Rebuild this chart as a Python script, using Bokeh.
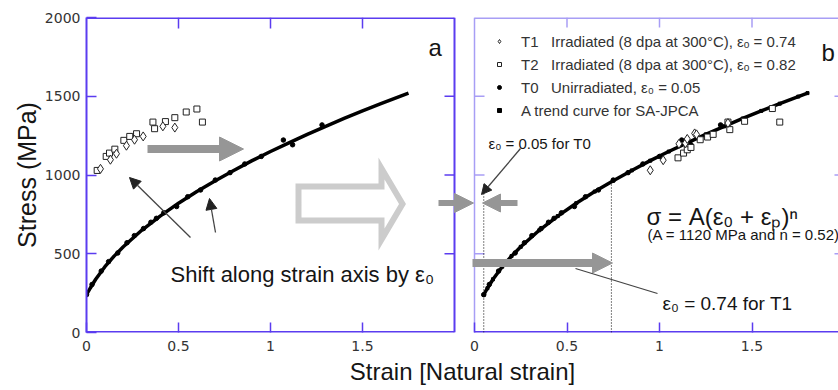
import math
from bokeh.plotting import figure
from bokeh.models import (Range1d, FixedTicker, CustomJSTickFormatter, Label, Arrow,
                          NormalHead, PolyAnnotation, Legend, LegendItem)
from bokeh.embed import file_html
from bokeh.resources import INLINE

# ---------------- data ----------------
# Trend curve for SA-JPCA (panel a: plastic strain)
strain_trend = [0.0, 0.02, 0.05, 0.10, 0.15, 0.20, 0.30, 0.40, 0.50, 0.60, 0.70,
                0.80, 0.90, 1.00, 1.10, 1.20, 1.30, 1.40, 1.50, 1.60, 1.70, 1.75]
stress_trend = [240, 281, 338, 418, 485, 544, 649, 739, 821, 895, 964,
                1029, 1091, 1149, 1204, 1258, 1309, 1359, 1407, 1453, 1498, 1520]

# T0 unirradiated (panel a)
strain_t0 = [0.0, 0.03, 0.08, 0.12, 0.17, 0.22, 0.26, 0.31, 0.35, 0.38, 0.42,
             0.49, 0.55, 0.62, 0.70, 0.78, 0.86, 0.95, 1.07, 1.12, 1.28]
stress_t0 = [240, 305, 390, 450, 505, 570, 615, 660, 700, 725, 760,
             800, 862, 905, 968, 1015, 1070, 1118, 1222, 1192, 1318]

# T1 irradiated (panel a)
strain_t1_a = [0.076, 0.130, 0.163, 0.217, 0.261, 0.308, 0.415, 0.480]
stress_t1_a = [1039, 1097, 1135, 1186, 1224, 1245, 1309, 1301]
# T2 irradiated (panel a)
strain_t2_a = [0.058, 0.107, 0.125, 0.154, 0.203, 0.235, 0.272, 0.361, 0.370,
               0.429, 0.480, 0.542, 0.600, 0.630]
stress_t2_a = [1029, 1118, 1139, 1164, 1220, 1245, 1262, 1336, 1294,
               1339, 1364, 1400, 1419, 1336]

# T1 / T2 shifted (panel b: total strain)
strain_t1_b = [0.95, 1.02, 1.105, 1.14, 1.15, 1.19, 1.20, 1.37]
stress_t1_b = [1030, 1094, 1198, 1202, 1229, 1264, 1258, 1330]
strain_t2_b = [1.10, 1.13, 1.15, 1.17, 1.22, 1.26, 1.29, 1.37, 1.38, 1.46, 1.61, 1.65]
stress_t2_b = [1109, 1139, 1160, 1175, 1224, 1241, 1258, 1336, 1288, 1341, 1422, 1336]

eps0_t0 = 0.05                 # shift of T0 / trend curve
eps0_marks = [0.05, 0.74]      # dotted markers in panel b
eps0_mark_tops = [948, 955]

x_ticks = [0, 0.5, 1, 1.5]
y_ticks = [0, 500, 1000, 1500, 2000]
inner_y_ticks = [500, 1000, 1500]
inner_x_ticks = [0.5, 1, 1.5]

legend_labels = ["T1   Irradiated (8 dpa at 300°C), εₒ = 0.74",
                 "T2   Irradiated (8 dpa at 300°C), εₒ = 0.82",
                 "T0   Unirradiated, ε₀ = 0.05",
                 "A trend curve for SA-JPCA"]

# ---------------- layout ----------------
W, H = 838, 390
ML, MT, MB = 86, 17, 58
FW = W - ML
FH = H - MT - MB
PX_L = 184.0    # px per strain unit, panel a
PX_R = 185.0    # px per strain unit, panel b
R_OFF = 388.0   # px from frame left to panel b zero
PANEL_END = 2.0

BLUE = "#5b3cf0"
LBLUE = "#a89ef5"
GRAY = "#969696"
LGRAY = "#cccccc"
TXT = "#151515"


def lx(px):   # page x -> panel a strain
    return (px - ML) / PX_L


def rx(px):   # page x -> panel b strain
    return (px - ML - R_OFF) / PX_R


def sy(py):   # page y -> stress
    return (MT + FH - py) * 2000.0 / FH


p = figure(width=W, height=H, output_backend="svg", toolbar_location=None,
           x_range=Range1d(0, FW / PX_L), y_range=Range1d(0, 2000),
           min_border_left=ML, min_border_top=MT, min_border_bottom=MB,
           min_border_right=0)
p.extra_x_ranges = {"r": Range1d(-R_OFF / PX_R, (FW - R_OFF) / PX_R)}
p.outline_line_color = None
p.xgrid.visible = False
p.ygrid.visible = False
p.background_fill_color = "white"
p.border_fill_color = "white"

# y axis (panel a)
ya = p.yaxis[0]
ya.ticker = FixedTicker(ticks=y_ticks)
ya.major_tick_in = 10
ya.major_tick_out = 0
ya.minor_tick_line_color = None
ya.axis_line_color = BLUE
ya.axis_line_width = 2
ya.major_tick_line_color = BLUE
ya.major_tick_line_width = 1.5
ya.major_label_text_font = "DejaVu Sans"
ya.major_label_text_font_size = "14px"
ya.major_label_text_color = "#333333"
ya.major_label_standoff = 6
ya.axis_label = "Stress (MPa)"
ya.axis_label_text_font = "Liberation Sans"
ya.axis_label_text_font_size = "25px"
ya.axis_label_text_font_style = "normal"
ya.axis_label_text_color = TXT
ya.axis_label_standoff = 1

# x axis shared by both panels
right_tick_pos = [(R_OFF + PX_R * t) / PX_L for t in x_ticks]
xa = p.xaxis[0]
xa.ticker = FixedTicker(ticks=x_ticks + right_tick_pos)
xa.formatter = CustomJSTickFormatter(args=dict(off=R_OFF / PX_L, k=PX_L / PX_R), code="""
let v = tick;
if (tick > off - 1e-6) { v = (tick - off) * k; }
v = Math.round(v * 100) / 100;
return v.toString();
""")
xa.axis_line_color = None
xa.major_tick_in = 10
xa.major_tick_out = 0
xa.minor_tick_line_color = None
xa.major_tick_line_color = BLUE
xa.major_tick_line_width = 1.5
xa.major_label_text_font = "DejaVu Sans"
xa.major_label_text_font_size = "14px"
xa.major_label_text_color = "#333333"
xa.major_label_standoff = 8
xa.axis_label = "Strain [Natural strain]"
xa.axis_label_text_font = "Liberation Sans"
xa.axis_label_text_font_size = "24px"
xa.axis_label_text_font_style = "normal"
xa.axis_label_text_color = TXT
xa.axis_label_standoff = 4

# panel frames
p.segment(x0=[0, 0, PANEL_END], y0=[0, 2000, 0], x1=[PANEL_END, PANEL_END, PANEL_END],
          y1=[0, 2000, 2000], line_color=BLUE, line_width=[3, 3, 2])
p.segment(x0=[0, 0], y0=[0, 2000], x1=[0, PANEL_END], y1=[2000, 2000],
          line_color=LBLUE, line_width=[1.5, 3], x_range_name="r")
p.segment(x0=[0], y0=[0], x1=[PANEL_END], y1=[0], line_color=BLUE, line_width=3,
          x_range_name="r")

# mirror ticks
p.ray(x=inner_x_ticks, y=[2000] * 3, length=11, angle=-math.pi / 2,
      length_units="screen", line_color=BLUE, line_width=1.5)
p.ray(x=[PANEL_END] * 3, y=inner_y_ticks, length=10, angle=math.pi,
      length_units="screen", line_color=BLUE, line_width=1.5)
p.ray(x=inner_x_ticks, y=[2000] * 3, length=10, angle=-math.pi / 2,
      length_units="screen", line_color=LBLUE, line_width=1.5, x_range_name="r")
p.ray(x=[0] * 3, y=inner_y_ticks, length=10, angle=0,
      length_units="screen", line_color=LBLUE, line_width=1.5, x_range_name="r")
p.ray(x=[PANEL_END] * 3, y=inner_y_ticks, length=10, angle=math.pi,
      length_units="screen", line_color=LBLUE, line_width=1.5, x_range_name="r")

# ---------------- panel a data ----------------
p.line(strain_trend, stress_trend, line_color="black", line_width=3.5)
p.scatter(strain_t0, stress_t0, marker="circle", size=4.5, color="black")
p.scatter(strain_t2_a, stress_t2_a, marker="square", size=6, fill_color="white",
          line_color="#222222", line_width=1)
p.scatter(strain_t1_a, stress_t1_a, marker="diamond", size=9,
          fill_color="white", line_color="#222222", line_width=1)

# ---------------- panel b data ----------------
strain_trend_b = [s + eps0_t0 for s in strain_trend]
strain_t0_b = [s + eps0_t0 for s in strain_t0]
p.segment(x0=eps0_marks, y0=[0, 0], x1=eps0_marks, y1=eps0_mark_tops,
          line_color="black", line_width=1, line_dash="1 2", x_range_name="r")
r_trend = p.line(strain_trend_b, stress_trend, line_color="black", line_width=3.5,
                 x_range_name="r")
r_trend_pts = p.scatter(strain_trend_b, stress_trend, marker="square", size=3,
                        color="black", x_range_name="r")
r_t0 = p.scatter(strain_t0_b, stress_t0, marker="circle", size=4.5, color="black",
                 x_range_name="r")
r_t2 = p.scatter(strain_t2_b, stress_t2_b, marker="square", size=6, fill_color="white",
                 line_color="#222222", line_width=1, x_range_name="r")
r_t1 = p.scatter(strain_t1_b, stress_t1_b, marker="diamond", size=9,
                 fill_color="white", line_color="#222222", line_width=1,
                 x_range_name="r")

legend = Legend(items=[LegendItem(label=legend_labels[0], renderers=[r_t1]),
                       LegendItem(label=legend_labels[1], renderers=[r_t2]),
                       LegendItem(label=legend_labels[2], renderers=[r_t0]),
                       LegendItem(label=legend_labels[3], renderers=[r_trend_pts])],
                location=(408, 212), padding=10, spacing=3, glyph_width=10,
                glyph_height=10, label_height=20, label_standoff=17, margin=0,
                border_line_color=None, background_fill_alpha=0,
                label_text_font="Liberation Sans", label_text_font_size="15px",
                label_text_color="#333333")
p.add_layout(legend)

# ---------------- annotations ----------------
# hollow arrow between panels
hx = [lx(298), lx(381), lx(381), lx(402), lx(381), lx(381), lx(298)]
hy = [sy(186), sy(186), sy(168), sy(203.5), sy(239), sy(220), sy(220)]
p.add_layout(PolyAnnotation(xs=hx, ys=hy, fill_alpha=0, line_alpha=1, line_color=LGRAY,
                            line_width=6, line_join="miter"))

# thick gray arrows
p.add_layout(Arrow(end=NormalHead(size=24, fill_color=GRAY, line_color=GRAY),
                   x_start=lx(147), y_start=sy(148.5), x_end=lx(243), y_end=sy(148.5),
                   line_color=GRAY, line_width=8))
p.add_layout(Arrow(end=NormalHead(size=19, fill_color=GRAY, line_color=GRAY),
                   x_start=lx(438), y_start=sy(202.5), x_end=lx(473), y_end=sy(202.5),
                   line_color=GRAY, line_width=6))
p.add_layout(Arrow(end=NormalHead(size=18, fill_color=GRAY, line_color=GRAY),
                   x_start=rx(517), y_start=sy(202.5), x_end=rx(482), y_end=sy(202.5),
                   line_color=GRAY, line_width=6, x_range_name="r"))
p.add_layout(Arrow(end=NormalHead(size=20, fill_color=GRAY, line_color=GRAY),
                   x_start=rx(472), y_start=sy(262.5), x_end=rx(612), y_end=sy(262.5),
                   line_color=GRAY, line_width=8, x_range_name="r"))

# thin black pointer arrows
p.add_layout(Arrow(end=NormalHead(size=11, fill_color="#222222", line_color="#222222"),
                   x_start=lx(190), y_start=sy(237), x_end=lx(129), y_end=sy(177),
                   line_color="#444444", line_width=1.3))
p.add_layout(Arrow(end=NormalHead(size=11, fill_color="#222222", line_color="#222222"),
                   x_start=lx(215), y_start=sy(232), x_end=lx(209), y_end=sy(198),
                   line_color="#444444", line_width=1.3))
p.add_layout(Arrow(end=NormalHead(size=10, fill_color="#222222", line_color="#222222"),
                   x_start=rx(520), y_start=sy(148), x_end=rx(481), y_end=sy(194),
                   line_color="#444444", line_width=1.3, x_range_name="r"))
p.add_layout(Arrow(end=None, x_start=rx(575), y_start=sy(268), x_end=rx(657),
                   y_end=sy(293), line_color="#444444", line_width=1.3,
                   x_range_name="r"))


# texts
def lab(x, y, text, size, rname="default", align="left", color=TXT):
    p.add_layout(Label(x=x, y=y, text=text, x_range_name=rname,
                       text_font="Liberation Sans", text_font_size=size,
                       text_color=color, text_align=align,
                       text_baseline="alphabetic"))


lab(lx(428), sy(47), "a", "24px")
lab(rx(821), sy(52), "b", "24px", "r")
lab(lx(170), sy(274), "Shift along strain axis by ε₀", "22px")
lab(rx(488), sy(143), "ε₀ = 0.05 for T0", "15px", "r")
lab(rx(646), sy(216), "σ = A(ε₀ + εₚ)ⁿ", "24px", "r")
lab(rx(647), sy(234), "(A = 1120 MPa and n = 0.52)", "15px", "r")
lab(rx(662), sy(303), "ε₀ = 0.74 for T1", "19px", "r")

open("out.html", "w").write(file_html(p, INLINE))
